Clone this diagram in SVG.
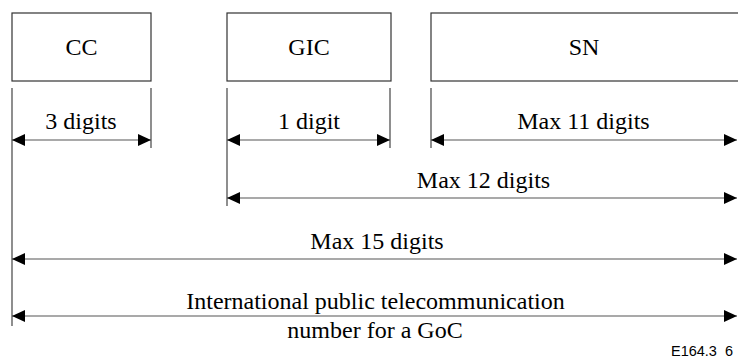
<svg xmlns="http://www.w3.org/2000/svg" width="738" height="358" viewBox="0 0 738 358">
<style>
.box{fill:#fff;stroke:#333;stroke-width:1.2}
.t{font-family:"Liberation Serif","Times New Roman",serif;font-size:24px;fill:#000;text-anchor:middle}
.s{font-family:"Liberation Sans",Arial,sans-serif;font-size:15.5px;fill:#000}
.ext{stroke:#444;stroke-width:1.2;fill:none}
.dim{stroke:#555;stroke-width:1.2;fill:none;marker-start:url(#ah);marker-end:url(#ah)}
</style>
<defs>
<marker id="ah" markerUnits="userSpaceOnUse" markerWidth="14" markerHeight="12" viewBox="0 0 14 12" refX="13" refY="6" orient="auto-start-reverse">
<path d="M0,0 L13,6 L0,12 Z" fill="#000"/>
</marker>
</defs>
<g id="cc"><rect class="box" x="12" y="13" width="139" height="68"/><text class="t" x="81.5" y="55">CC</text></g>
<g id="gic"><rect class="box" x="227" y="13" width="164" height="68"/><text class="t" x="309" y="55">GIC</text></g>
<g id="sn"><rect class="box" x="431" y="13" width="312" height="68"/><text class="t" x="584" y="55">SN</text></g>
<g id="connectors">
<line class="ext" x1="12" y1="88" x2="12" y2="326"/>
<line class="ext" x1="151" y1="88" x2="151" y2="148"/>
<line class="ext" x1="227" y1="88" x2="227" y2="206"/>
<line class="ext" x1="390" y1="88" x2="390" y2="148"/>
<line class="ext" x1="431" y1="88" x2="431" y2="148"/>
<line class="dim" x1="12" y1="140" x2="151" y2="140"/>
<line class="dim" x1="227" y1="140" x2="390" y2="140"/>
<line class="dim" x1="431" y1="140" x2="737" y2="140"/>
<line class="dim" x1="227" y1="198" x2="737" y2="198"/>
<line class="dim" x1="12" y1="259" x2="737" y2="259"/>
<line class="dim" x1="12" y1="316" x2="737" y2="316"/>
</g>
<g id="labels">
<text class="t" x="81" y="129">3 digits</text>
<text class="t" x="309" y="129">1 digit</text>
<text class="t" x="583.5" y="129">Max 11 digits</text>
<text class="t" x="483.5" y="188">Max 12 digits</text>
<text class="t" x="377" y="249">Max 15 digits</text>
<text class="t" x="375.5" y="309">International public telecommunication</text>
<text class="t" x="375" y="338">number for a GoC</text>
<text class="s" x="671" y="356" textLength="62" lengthAdjust="spacingAndGlyphs" xml:space="preserve">E164.3  6</text>
</g>
</svg>
